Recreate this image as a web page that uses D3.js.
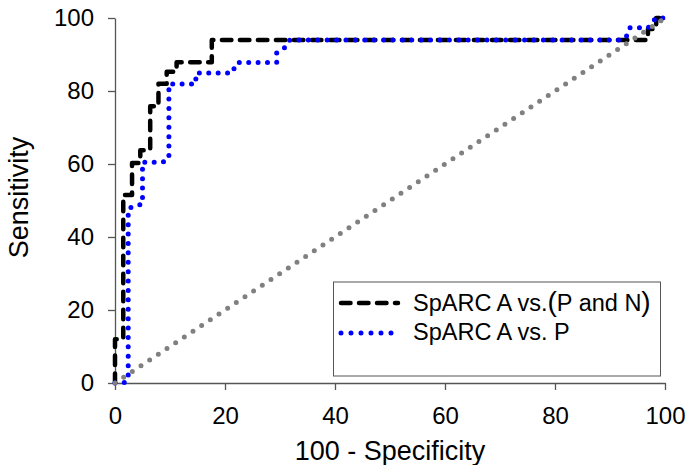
<!DOCTYPE html>
<html>
<head>
<meta charset="utf-8">
<script src="https://cdnjs.cloudflare.com/ajax/libs/d3/7.8.5/d3.min.js"></script>
<style>
body { margin: 0; background: #fff; }
svg { display: block; font-family: "Liberation Sans", Arial, sans-serif; }
</style>
</head>
<body>
<div id="chart"></div>
<script>
// ROC curves, values (100 - specificity, sensitivity)
const fprPN  = [0, 0, 1.5, 1.5, 3.1, 3.1, 4.6, 4.6, 6.4, 6.4, 7.9, 7.9, 9.4, 9.4, 11.2, 11.2, 17.6, 17.6, 96.9, 96.9, 98.4, 98.4, 100];
const sensPN = [0, 12, 12, 51.5, 51.5, 60.3, 60.3, 63.8, 63.8, 75.8, 75.8, 82, 82, 85.3, 85.3, 87.9, 87.9, 94, 94, 97, 97, 100, 100];

const fprP  = [0, 1.6, 2.4, 2.4, 3.5, 5, 5, 8.7, 9.8, 9.8, 14.7, 14.7, 21.3, 22.1, 29.4, 29.4, 31, 31.8, 92.1, 93, 93.5, 96.9, 97.6, 98.3, 100];
const sensP = [0, 0, 1, 47.7, 48.5, 49, 60.5, 60.5, 61.5, 81.9, 81.9, 84.9, 84.9, 87.8, 87.8, 90.5, 92, 94, 94, 95, 97.3, 97.3, 98.5, 100, 100];

const refX = [0, 100];
const refY = [0, 100];

const xTicks = [0, 20, 40, 60, 80, 100];
const yTicks = [0, 20, 40, 60, 80, 100];

const seriesNames = ['SpARC A vs.', 'SpARC A vs. P'];

const width = 686, height = 465;
const margin = {left: 115, right: 21, top: 18, bottom: 82};

const svg = d3.select('#chart').append('svg')
    .attr('width', width)
    .attr('height', height);

const x = d3.scaleLinear().domain([0, 100]).range([margin.left, width - margin.right]);
const y = d3.scaleLinear().domain([0, 100]).range([height - margin.bottom, margin.top]);

const axisColor = '#555';

// axes
const gx = svg.append('g')
    .attr('transform', `translate(0,${y(0)})`)
    .call(d3.axisBottom(x).tickValues(xTicks).tickSize(7).tickSizeOuter(0).tickPadding(17));
const gy = svg.append('g')
    .attr('transform', `translate(${x(0)},0)`)
    .call(d3.axisLeft(y).tickValues(yTicks).tickSize(7).tickSizeOuter(0).tickPadding(14));
[gx, gy].forEach(g => {
    g.select('.domain').attr('stroke', axisColor).attr('stroke-width', 1.3);
    g.selectAll('.tick line').attr('stroke', axisColor).attr('stroke-width', 1.3);
    g.selectAll('.tick text')
        .attr('fill', '#000')
        .style('font-size', '24px')
        .style('font-family', '"Liberation Sans", Arial, sans-serif');
});

// axis titles
svg.append('text')
    .attr('x', (x(0) + x(100)) / 2)
    .attr('y', 460)
    .attr('text-anchor', 'middle')
    .style('font-size', '27px')
    .text('100 - Specificity');
svg.append('text')
    .attr('transform', `translate(28,${(y(0) + y(100)) / 2 - 3}) rotate(-90)`)
    .attr('text-anchor', 'middle')
    .style('font-size', '27px')
    .text('Sensitivity');

const line = d3.line()
    .x(d => x(d[0]))
    .y(d => y(d[1]));

const styles = {
    pn: {stroke: '#000', width: 4.5, dash: '9.5,8.5'},
    p: {stroke: '#0000ff', width: 5, dash: '0,9.4'},
    ref: {stroke: '#808080', width: 5, dash: '0,10.4'}
};

const drawPath = (xs, ys, s) => {
    svg.append('path')
        .datum(xs.map((v, i) => [v, ys[i]]))
        .attr('d', line)
        .attr('fill', 'none')
        .attr('stroke', s.stroke)
        .attr('stroke-width', s.width)
        .attr('stroke-dasharray', s.dash)
        .attr('stroke-linecap', 'round')
        .attr('stroke-linejoin', 'round');
};

drawPath(fprPN, sensPN, styles.pn);
drawPath(fprP, sensP, styles.p);
drawPath(refX, refY, styles.ref);

// legend
const legend = svg.append('g');
legend.append('rect')
    .attr('x', 333.5).attr('y', 282)
    .attr('width', 327).attr('height', 94)
    .attr('fill', '#fff')
    .attr('stroke', axisColor)
    .attr('stroke-width', 1);

const legendRows = [
    {y: 303, s: styles.pn},
    {y: 333, s: styles.p}
];
legendRows.forEach((r, i) => {
    legend.append('line')
        .attr('x1', 341).attr('x2', 398)
        .attr('y1', r.y).attr('y2', r.y)
        .attr('stroke', r.s.stroke)
        .attr('stroke-width', r.s.width)
        .attr('stroke-dasharray', r.s.dash === '0,9.4' ? '0,10' : r.s.dash)
        .attr('stroke-linecap', 'round');
});

const t1 = legend.append('text')
    .attr('x', 413).attr('y', 311)
    .style('font-size', '23.5px');
t1.append('tspan').text(seriesNames[0]);
t1.append('tspan').style('font-size', '28px').text('(');
t1.append('tspan').text('P and N');
t1.append('tspan').style('font-size', '28px').text(')');

legend.append('text')
    .attr('x', 413).attr('y', 340)
    .style('font-size', '23.5px')
    .text(seriesNames[1]);
</script>
</body>
</html>
